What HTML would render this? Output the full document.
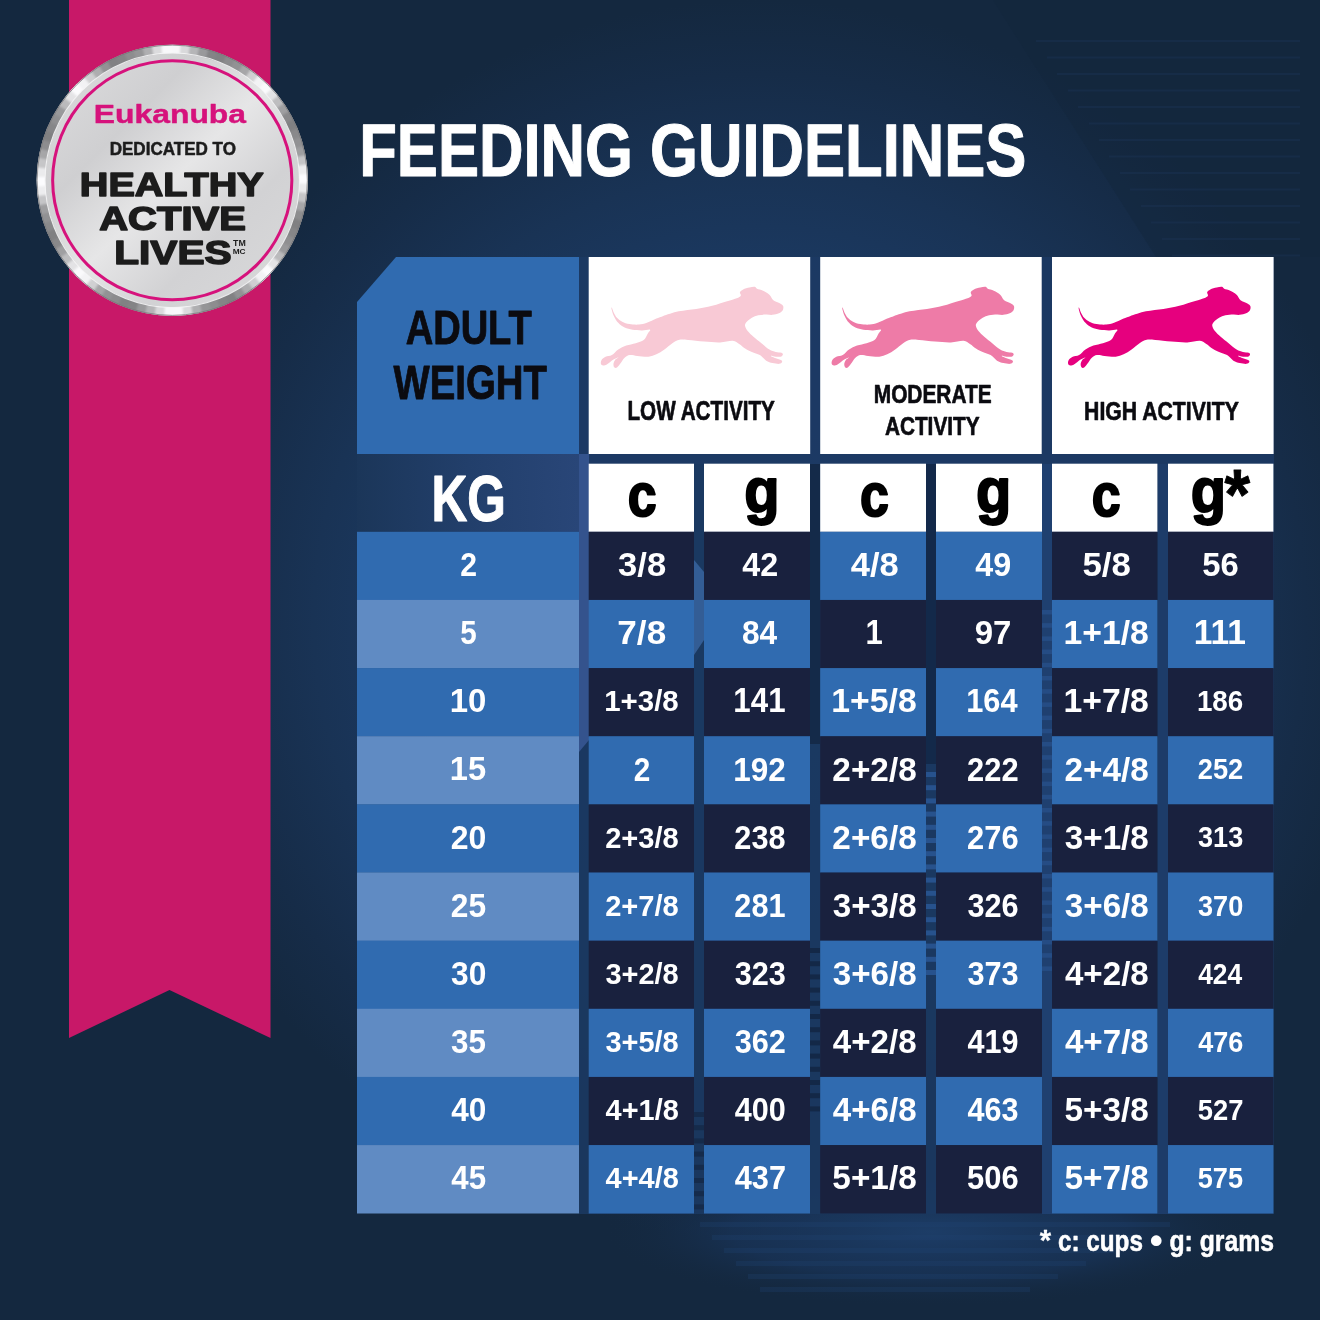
<!DOCTYPE html>
<html lang="en">
<head>
<meta charset="utf-8">
<title>Feeding Guidelines</title>
<style>
html,body{margin:0;padding:0;background:#14283f;}
body{width:1320px;height:1320px;overflow:hidden;}
svg{display:block;will-change:transform;}
svg text{font-family:"Liberation Sans",sans-serif;font-weight:700;}
</style>
</head>
<body>
<svg width="1320" height="1320" viewBox="0 0 1320 1320">
<defs>
<radialGradient id="glow" cx="760" cy="620" r="620" gradientUnits="userSpaceOnUse">
<stop offset="0" stop-color="#1d3e6b"/><stop offset="0.55" stop-color="#1b3961"/><stop offset="0.72" stop-color="#193355"/><stop offset="0.88" stop-color="#162c48"/><stop offset="1" stop-color="#14283f"/>
</radialGradient>
<radialGradient id="glow2" cx="0.5" cy="0.5" r="0.5">
<stop offset="0" stop-color="#1d3e69" stop-opacity="0.95"/><stop offset="0.6" stop-color="#1a3760" stop-opacity="0.55"/><stop offset="1" stop-color="#14283f" stop-opacity="0"/>
</radialGradient>
<linearGradient id="kgbg" x1="0" x2="1" y1="0" y2="0">
<stop offset="0" stop-color="#1b3659"/><stop offset="0.5" stop-color="#223f6b"/><stop offset="1" stop-color="#294678"/>
</linearGradient>
<linearGradient id="face" x1="0" y1="0" x2="1" y2="1">
<stop offset="0" stop-color="#dededf"/><stop offset="0.3" stop-color="#cfcfd1"/><stop offset="0.5" stop-color="#e6e6e7"/><stop offset="0.7" stop-color="#d2d2d4"/><stop offset="1" stop-color="#dadadb"/>
</linearGradient>
<filter id="soft" x="-5%" y="-5%" width="110%" height="110%"><feGaussianBlur stdDeviation="1.2"/></filter>
<clipPath id="ringclip"><path clip-rule="evenodd" d="M172.25,44.65a135.6,135.6 0 1,0 0.01,0Z M172.25,53.45a126.8,126.8 0 1,1 -0.01,0Z"/></clipPath>
</defs>
<rect width="1320" height="1320" fill="#14283f"/>
<rect x="0" y="0" width="1320" height="1320" fill="url(#glow)"/>
<ellipse cx="930" cy="1232" rx="330" ry="75" fill="url(#glow2)"/>
<polygon points="993,0 1320,0 1320,257 1275,257 1156,257" fill="#12253b" opacity="0.42"/>
<rect x="1036" y="40.0" width="264" height="2" fill="#1a3150" opacity="0.55"/>
<rect x="1047" y="56.5" width="253" height="2" fill="#1a3150" opacity="0.55"/>
<rect x="1057" y="73.0" width="243" height="2" fill="#1a3150" opacity="0.55"/>
<rect x="1068" y="89.5" width="232" height="2" fill="#1a3150" opacity="0.55"/>
<rect x="1078" y="106.0" width="222" height="2" fill="#1a3150" opacity="0.55"/>
<rect x="1089" y="122.5" width="211" height="2" fill="#1a3150" opacity="0.55"/>
<rect x="1099" y="139.0" width="201" height="2" fill="#1a3150" opacity="0.55"/>
<rect x="1109" y="155.5" width="191" height="2" fill="#1a3150" opacity="0.55"/>
<rect x="1120" y="172.0" width="180" height="2" fill="#1a3150" opacity="0.55"/>
<rect x="1130" y="188.5" width="170" height="2" fill="#1a3150" opacity="0.55"/>
<rect x="1141" y="205.0" width="159" height="2" fill="#1a3150" opacity="0.55"/>
<rect x="1151" y="221.5" width="149" height="2" fill="#1a3150" opacity="0.55"/>
<rect x="1162" y="238.0" width="138" height="2" fill="#1a3150" opacity="0.55"/>
<rect x="1172" y="254.5" width="128" height="2" fill="#1a3150" opacity="0.55"/>
<rect x="700" y="1222" width="470" height="5" fill="#214674" opacity="0.28"/>
<rect x="712" y="1235" width="430" height="5" fill="#214674" opacity="0.28"/>
<rect x="724" y="1248" width="390" height="5" fill="#214674" opacity="0.28"/>
<rect x="736" y="1261" width="350" height="5" fill="#214674" opacity="0.28"/>
<rect x="748" y="1274" width="310" height="5" fill="#214674" opacity="0.28"/>
<rect x="760" y="1287" width="270" height="5" fill="#214674" opacity="0.28"/>
<rect x="579" y="257" width="695" height="207" fill="#1c3a64" opacity="0.85"/>
<rect x="579" y="464" width="695" height="750" fill="#1b3861" opacity="0.9"/>
<polygon points="579,454 589,454 589,740 579,752" fill="#34538d"/>
<rect x="810" y="464" width="10" height="280" fill="#142a49"/>
<rect x="926" y="464" width="10" height="300" fill="#13294a"/>
<rect x="1042" y="464" width="10" height="750" fill="#1f4070"/>
<rect x="1158" y="464" width="10" height="750" fill="#1d3c69"/>
<rect x="926" y="772.0" width="10" height="5" fill="#2c5b9c" opacity="0.75"/>
<rect x="926" y="785.2" width="10" height="5" fill="#2c5b9c" opacity="0.75"/>
<rect x="926" y="798.4" width="10" height="5" fill="#2c5b9c" opacity="0.75"/>
<rect x="926" y="811.6" width="10" height="5" fill="#2c5b9c" opacity="0.75"/>
<rect x="926" y="824.8" width="10" height="5" fill="#2c5b9c" opacity="0.75"/>
<rect x="926" y="838.0" width="10" height="5" fill="#2c5b9c" opacity="0.75"/>
<rect x="926" y="851.2" width="10" height="5" fill="#2c5b9c" opacity="0.75"/>
<rect x="926" y="864.4" width="10" height="5" fill="#2c5b9c" opacity="0.75"/>
<rect x="926" y="877.6" width="10" height="5" fill="#2c5b9c" opacity="0.75"/>
<rect x="926" y="890.8" width="10" height="5" fill="#2c5b9c" opacity="0.75"/>
<rect x="926" y="904.0" width="10" height="5" fill="#2c5b9c" opacity="0.75"/>
<rect x="926" y="917.2" width="10" height="5" fill="#2c5b9c" opacity="0.75"/>
<rect x="926" y="930.4" width="10" height="5" fill="#2c5b9c" opacity="0.75"/>
<rect x="926" y="943.6" width="10" height="5" fill="#2c5b9c" opacity="0.75"/>
<rect x="926" y="956.8" width="10" height="5" fill="#2c5b9c" opacity="0.75"/>
<rect x="926" y="970.0" width="10" height="5" fill="#2c5b9c" opacity="0.75"/>
<rect x="1042" y="610.0" width="10" height="4.5" fill="#2a5591" opacity="0.6"/>
<rect x="1042" y="623.2" width="10" height="4.5" fill="#2a5591" opacity="0.6"/>
<rect x="1042" y="636.4" width="10" height="4.5" fill="#2a5591" opacity="0.6"/>
<rect x="1042" y="649.6" width="10" height="4.5" fill="#2a5591" opacity="0.6"/>
<rect x="1042" y="662.8" width="10" height="4.5" fill="#2a5591" opacity="0.6"/>
<rect x="1042" y="676.0" width="10" height="4.5" fill="#2a5591" opacity="0.6"/>
<rect x="1042" y="689.2" width="10" height="4.5" fill="#2a5591" opacity="0.6"/>
<rect x="1042" y="702.4" width="10" height="4.5" fill="#2a5591" opacity="0.6"/>
<rect x="1042" y="715.6" width="10" height="4.5" fill="#2a5591" opacity="0.6"/>
<rect x="1042" y="728.8" width="10" height="4.5" fill="#2a5591" opacity="0.6"/>
<rect x="1042" y="742.0" width="10" height="4.5" fill="#2a5591" opacity="0.6"/>
<rect x="1042" y="755.2" width="10" height="4.5" fill="#2a5591" opacity="0.6"/>
<rect x="1042" y="768.4" width="10" height="4.5" fill="#2a5591" opacity="0.6"/>
<rect x="1042" y="781.6" width="10" height="4.5" fill="#2a5591" opacity="0.6"/>
<rect x="1042" y="794.8" width="10" height="4.5" fill="#2a5591" opacity="0.6"/>
<rect x="1042" y="808.0" width="10" height="4.5" fill="#2a5591" opacity="0.6"/>
<rect x="1042" y="821.2" width="10" height="4.5" fill="#2a5591" opacity="0.6"/>
<rect x="1042" y="834.4" width="10" height="4.5" fill="#2a5591" opacity="0.6"/>
<rect x="1042" y="847.6" width="10" height="4.5" fill="#2a5591" opacity="0.6"/>
<rect x="1042" y="860.8" width="10" height="4.5" fill="#2a5591" opacity="0.6"/>
<rect x="1042" y="874.0" width="10" height="4.5" fill="#2a5591" opacity="0.6"/>
<rect x="1042" y="887.2" width="10" height="4.5" fill="#2a5591" opacity="0.6"/>
<rect x="1042" y="900.4" width="10" height="4.5" fill="#2a5591" opacity="0.6"/>
<rect x="1042" y="913.6" width="10" height="4.5" fill="#2a5591" opacity="0.6"/>
<rect x="1042" y="926.8" width="10" height="4.5" fill="#2a5591" opacity="0.6"/>
<rect x="1042" y="940.0" width="10" height="4.5" fill="#2a5591" opacity="0.6"/>
<rect x="1042" y="953.2" width="10" height="4.5" fill="#2a5591" opacity="0.6"/>
<rect x="1042" y="966.4" width="10" height="4.5" fill="#2a5591" opacity="0.6"/>
<rect x="810" y="948.0" width="10" height="5" fill="#11223d" opacity="0.7"/>
<rect x="810" y="961.2" width="10" height="5" fill="#11223d" opacity="0.7"/>
<rect x="810" y="974.4" width="10" height="5" fill="#11223d" opacity="0.7"/>
<rect x="810" y="987.6" width="10" height="5" fill="#11223d" opacity="0.7"/>
<rect x="810" y="1000.8" width="10" height="5" fill="#11223d" opacity="0.7"/>
<rect x="810" y="1014.0" width="10" height="5" fill="#11223d" opacity="0.7"/>
<rect x="810" y="1027.2" width="10" height="5" fill="#11223d" opacity="0.7"/>
<rect x="810" y="1040.4" width="10" height="5" fill="#11223d" opacity="0.7"/>
<rect x="810" y="1053.6" width="10" height="5" fill="#11223d" opacity="0.7"/>
<rect x="810" y="1066.8" width="10" height="5" fill="#11223d" opacity="0.7"/>
<rect x="810" y="1080.0" width="10" height="5" fill="#11223d" opacity="0.7"/>
<rect x="810" y="1093.2" width="10" height="5" fill="#11223d" opacity="0.7"/>
<rect x="810" y="1106.4" width="10" height="5" fill="#11223d" opacity="0.7"/>
<rect x="694" y="1112.0" width="10" height="5" fill="#12233f" opacity="0.6"/>
<rect x="694" y="1125.2" width="10" height="5" fill="#12233f" opacity="0.6"/>
<rect x="694" y="1138.4" width="10" height="5" fill="#12233f" opacity="0.6"/>
<rect x="694" y="1151.6" width="10" height="5" fill="#12233f" opacity="0.6"/>
<rect x="694" y="1164.8" width="10" height="5" fill="#12233f" opacity="0.6"/>
<rect x="694" y="1178.0" width="10" height="5" fill="#12233f" opacity="0.6"/>
<rect x="694" y="1191.2" width="10" height="5" fill="#12233f" opacity="0.6"/>
<rect x="694" y="1204.4" width="10" height="5" fill="#12233f" opacity="0.6"/>
<polygon points="694,560 704,572 704,640 694,655" fill="#3a67a3" opacity="0.8"/>
<polygon points="69,0 270.5,0 270.5,1038 169.5,990 69,1038" fill="#c81868"/>
<circle cx="172.25" cy="180.25" r="135.6" fill="#b4b4b6"/>
<g clip-path="url(#ringclip)"><g filter="url(#soft)">
<path d="M172.25,180.25L170.80,41.66A138.6,138.6 0 0,1 183.37,42.10Z" fill="#f7f7f9"/>
<path d="M172.25,180.25L180.47,41.89A138.6,138.6 0 0,1 192.98,43.21Z" fill="#d9d9db"/>
<path d="M172.25,180.25L190.10,42.80A138.6,138.6 0 0,1 202.48,44.99Z" fill="#b5b5b7"/>
<path d="M172.25,180.25L199.65,44.38A138.6,138.6 0 0,1 211.85,47.43Z" fill="#99999b"/>
<path d="M172.25,180.25L209.06,46.63A138.6,138.6 0 0,1 221.02,50.51Z" fill="#848486"/>
<path d="M172.25,180.25L218.29,49.52A138.6,138.6 0 0,1 229.95,54.23Z" fill="#818183"/>
<path d="M172.25,180.25L227.29,53.05A138.6,138.6 0 0,1 238.60,58.56Z" fill="#8b8b8d"/>
<path d="M172.25,180.25L236.03,57.20A138.6,138.6 0 0,1 246.92,63.49Z" fill="#929294"/>
<path d="M172.25,180.25L244.46,61.95A138.6,138.6 0 0,1 254.89,68.98Z" fill="#a6a6a8"/>
<path d="M172.25,180.25L252.54,67.27A138.6,138.6 0 0,1 262.45,75.01Z" fill="#d0d0d2"/>
<path d="M172.25,180.25L260.22,73.15A138.6,138.6 0 0,1 269.57,81.56Z" fill="#f3f3f5"/>
<path d="M172.25,180.25L267.48,79.55A138.6,138.6 0 0,1 276.22,88.59Z" fill="#fafafc"/>
<path d="M172.25,180.25L274.27,86.43A138.6,138.6 0 0,1 282.36,96.07Z" fill="#e3e3e5"/>
<path d="M172.25,180.25L280.57,93.78A138.6,138.6 0 0,1 287.96,103.95Z" fill="#bdbdbf"/>
<path d="M172.25,180.25L286.34,101.55A138.6,138.6 0 0,1 293.00,112.21Z" fill="#9f9fa1"/>
<path d="M172.25,180.25L291.55,109.70A138.6,138.6 0 0,1 297.45,120.80Z" fill="#88888a"/>
<path d="M172.25,180.25L296.18,118.19A138.6,138.6 0 0,1 301.29,129.68Z" fill="#808082"/>
<path d="M172.25,180.25L300.21,126.99A138.6,138.6 0 0,1 304.51,138.80Z" fill="#89898b"/>
<path d="M172.25,180.25L303.61,136.04A138.6,138.6 0 0,1 307.08,148.13Z" fill="#919193"/>
<path d="M172.25,180.25L306.37,145.31A138.6,138.6 0 0,1 308.99,157.61Z" fill="#9e9ea0"/>
<path d="M172.25,180.25L308.48,154.75A138.6,138.6 0 0,1 310.23,167.21Z" fill="#c5c5c7"/>
<path d="M172.25,180.25L309.93,164.32A138.6,138.6 0 0,1 310.81,176.86Z" fill="#ededef"/>
<path d="M172.25,180.25L310.71,173.96A138.6,138.6 0 0,1 310.71,186.54Z" fill="#fcfcfe"/>
<path d="M172.25,180.25L310.81,183.64A138.6,138.6 0 0,1 309.93,196.18Z" fill="#ebebed"/>
<path d="M172.25,180.25L310.23,193.29A138.6,138.6 0 0,1 308.48,205.75Z" fill="#c6c6c8"/>
<path d="M172.25,180.25L308.99,202.89A138.6,138.6 0 0,1 306.37,215.19Z" fill="#a6a6a8"/>
<path d="M172.25,180.25L307.08,212.37A138.6,138.6 0 0,1 303.61,224.46Z" fill="#8d8d8f"/>
<path d="M172.25,180.25L304.51,221.70A138.6,138.6 0 0,1 300.21,233.51Z" fill="#808082"/>
<path d="M172.25,180.25L301.29,230.82A138.6,138.6 0 0,1 296.18,242.31Z" fill="#868688"/>
<path d="M172.25,180.25L297.45,239.70A138.6,138.6 0 0,1 291.55,250.80Z" fill="#8f8f91"/>
<path d="M172.25,180.25L293.00,248.29A138.6,138.6 0 0,1 286.34,258.95Z" fill="#99999b"/>
<path d="M172.25,180.25L287.96,256.55A138.6,138.6 0 0,1 280.57,266.72Z" fill="#bababc"/>
<path d="M172.25,180.25L282.36,264.43A138.6,138.6 0 0,1 274.27,274.07Z" fill="#e4e4e6"/>
<path d="M172.25,180.25L276.22,271.91A138.6,138.6 0 0,1 267.48,280.95Z" fill="#fbfbfd"/>
<path d="M172.25,180.25L269.57,278.94A138.6,138.6 0 0,1 260.22,287.35Z" fill="#f2f2f4"/>
<path d="M172.25,180.25L262.45,285.49A138.6,138.6 0 0,1 252.54,293.23Z" fill="#cfcfd1"/>
<path d="M172.25,180.25L254.89,291.52A138.6,138.6 0 0,1 244.46,298.55Z" fill="#adadaf"/>
<path d="M172.25,180.25L246.92,297.01A138.6,138.6 0 0,1 236.03,303.30Z" fill="#929294"/>
<path d="M172.25,180.25L238.60,301.94A138.6,138.6 0 0,1 227.29,307.45Z" fill="#818183"/>
<path d="M172.25,180.25L229.95,306.27A138.6,138.6 0 0,1 218.29,310.98Z" fill="#848486"/>
<path d="M172.25,180.25L221.02,309.99A138.6,138.6 0 0,1 209.06,313.87Z" fill="#8d8d8f"/>
<path d="M172.25,180.25L211.85,313.07A138.6,138.6 0 0,1 199.65,316.12Z" fill="#959597"/>
<path d="M172.25,180.25L202.48,315.51A138.6,138.6 0 0,1 190.10,317.70Z" fill="#afafb1"/>
<path d="M172.25,180.25L192.98,317.29A138.6,138.6 0 0,1 180.47,318.61Z" fill="#dbdbdd"/>
<path d="M172.25,180.25L183.37,318.40A138.6,138.6 0 0,1 170.80,318.84Z" fill="#f8f8fa"/>
<path d="M172.25,180.25L173.70,318.84A138.6,138.6 0 0,1 161.13,318.40Z" fill="#f7f7f9"/>
<path d="M172.25,180.25L164.03,318.61A138.6,138.6 0 0,1 151.52,317.29Z" fill="#d9d9db"/>
<path d="M172.25,180.25L154.40,317.70A138.6,138.6 0 0,1 142.02,315.51Z" fill="#b5b5b7"/>
<path d="M172.25,180.25L144.85,316.12A138.6,138.6 0 0,1 132.65,313.07Z" fill="#99999b"/>
<path d="M172.25,180.25L135.44,313.87A138.6,138.6 0 0,1 123.48,309.99Z" fill="#848486"/>
<path d="M172.25,180.25L126.21,310.98A138.6,138.6 0 0,1 114.55,306.27Z" fill="#818183"/>
<path d="M172.25,180.25L117.21,307.45A138.6,138.6 0 0,1 105.90,301.94Z" fill="#8b8b8d"/>
<path d="M172.25,180.25L108.47,303.30A138.6,138.6 0 0,1 97.58,297.01Z" fill="#929294"/>
<path d="M172.25,180.25L100.04,298.55A138.6,138.6 0 0,1 89.61,291.52Z" fill="#a6a6a8"/>
<path d="M172.25,180.25L91.96,293.23A138.6,138.6 0 0,1 82.05,285.49Z" fill="#d0d0d2"/>
<path d="M172.25,180.25L84.28,287.35A138.6,138.6 0 0,1 74.93,278.94Z" fill="#f3f3f5"/>
<path d="M172.25,180.25L77.02,280.95A138.6,138.6 0 0,1 68.28,271.91Z" fill="#fafafc"/>
<path d="M172.25,180.25L70.23,274.07A138.6,138.6 0 0,1 62.14,264.43Z" fill="#e3e3e5"/>
<path d="M172.25,180.25L63.93,266.72A138.6,138.6 0 0,1 56.54,256.55Z" fill="#bdbdbf"/>
<path d="M172.25,180.25L58.16,258.95A138.6,138.6 0 0,1 51.50,248.29Z" fill="#9f9fa1"/>
<path d="M172.25,180.25L52.95,250.80A138.6,138.6 0 0,1 47.05,239.70Z" fill="#88888a"/>
<path d="M172.25,180.25L48.32,242.31A138.6,138.6 0 0,1 43.21,230.82Z" fill="#808082"/>
<path d="M172.25,180.25L44.29,233.51A138.6,138.6 0 0,1 39.99,221.70Z" fill="#89898b"/>
<path d="M172.25,180.25L40.89,224.46A138.6,138.6 0 0,1 37.42,212.37Z" fill="#919193"/>
<path d="M172.25,180.25L38.13,215.19A138.6,138.6 0 0,1 35.51,202.89Z" fill="#9e9ea0"/>
<path d="M172.25,180.25L36.02,205.75A138.6,138.6 0 0,1 34.27,193.29Z" fill="#c5c5c7"/>
<path d="M172.25,180.25L34.57,196.18A138.6,138.6 0 0,1 33.69,183.64Z" fill="#ededef"/>
<path d="M172.25,180.25L33.79,186.54A138.6,138.6 0 0,1 33.79,173.96Z" fill="#fcfcfe"/>
<path d="M172.25,180.25L33.69,176.86A138.6,138.6 0 0,1 34.57,164.32Z" fill="#ebebed"/>
<path d="M172.25,180.25L34.27,167.21A138.6,138.6 0 0,1 36.02,154.75Z" fill="#c6c6c8"/>
<path d="M172.25,180.25L35.51,157.61A138.6,138.6 0 0,1 38.13,145.31Z" fill="#a6a6a8"/>
<path d="M172.25,180.25L37.42,148.13A138.6,138.6 0 0,1 40.89,136.04Z" fill="#8d8d8f"/>
<path d="M172.25,180.25L39.99,138.80A138.6,138.6 0 0,1 44.29,126.99Z" fill="#808082"/>
<path d="M172.25,180.25L43.21,129.68A138.6,138.6 0 0,1 48.32,118.19Z" fill="#868688"/>
<path d="M172.25,180.25L47.05,120.80A138.6,138.6 0 0,1 52.95,109.70Z" fill="#8f8f91"/>
<path d="M172.25,180.25L51.50,112.21A138.6,138.6 0 0,1 58.16,101.55Z" fill="#99999b"/>
<path d="M172.25,180.25L56.54,103.95A138.6,138.6 0 0,1 63.93,93.78Z" fill="#bababc"/>
<path d="M172.25,180.25L62.14,96.07A138.6,138.6 0 0,1 70.23,86.43Z" fill="#e4e4e6"/>
<path d="M172.25,180.25L68.28,88.59A138.6,138.6 0 0,1 77.02,79.55Z" fill="#fbfbfd"/>
<path d="M172.25,180.25L74.93,81.56A138.6,138.6 0 0,1 84.28,73.15Z" fill="#f2f2f4"/>
<path d="M172.25,180.25L82.05,75.01A138.6,138.6 0 0,1 91.96,67.27Z" fill="#cfcfd1"/>
<path d="M172.25,180.25L89.61,68.98A138.6,138.6 0 0,1 100.04,61.95Z" fill="#adadaf"/>
<path d="M172.25,180.25L97.58,63.49A138.6,138.6 0 0,1 108.47,57.20Z" fill="#929294"/>
<path d="M172.25,180.25L105.90,58.56A138.6,138.6 0 0,1 117.21,53.05Z" fill="#818183"/>
<path d="M172.25,180.25L114.55,54.23A138.6,138.6 0 0,1 126.21,49.52Z" fill="#848486"/>
<path d="M172.25,180.25L123.48,50.51A138.6,138.6 0 0,1 135.44,46.63Z" fill="#8d8d8f"/>
<path d="M172.25,180.25L132.65,47.43A138.6,138.6 0 0,1 144.85,44.38Z" fill="#959597"/>
<path d="M172.25,180.25L142.02,44.99A138.6,138.6 0 0,1 154.40,42.80Z" fill="#afafb1"/>
<path d="M172.25,180.25L151.52,43.21A138.6,138.6 0 0,1 164.03,41.89Z" fill="#dbdbdd"/>
<path d="M172.25,180.25L161.13,42.10A138.6,138.6 0 0,1 173.70,41.66Z" fill="#f8f8fa"/>
</g></g>
<circle cx="172.25" cy="180.25" r="135.1" fill="none" stroke="#77777a" stroke-width="1" opacity="0.75"/>
<circle cx="172.25" cy="180.25" r="126.8" fill="url(#face)"/>
<circle cx="172.25" cy="180.25" r="127.2" fill="none" stroke="#f4f4f5" stroke-width="1.1" opacity="0.9"/>
<circle cx="172.25" cy="180.25" r="119.6" fill="none" stroke="#d6127c" stroke-width="3.0"/>
<text transform="translate(93.83 123.20) scale(1.2289 1)" font-size="25.93" text-anchor="start" fill="#d6127c" stroke="#d6127c" stroke-width="0.5" stroke-linejoin="round" vector-effect="non-scaling-stroke">Eukanuba</text>
<text transform="translate(109.69 155.30) scale(0.9552 1)" font-size="17.86" text-anchor="start" fill="#1c1c1c" stroke="#1c1c1c" stroke-width="0.5" stroke-linejoin="round" vector-effect="non-scaling-stroke">DEDICATED TO</text>
<text transform="translate(79.83 195.60) scale(1.1952 1)" font-size="33.09" text-anchor="start" fill="#1c1c1c" stroke="#1c1c1c" stroke-width="1.7" stroke-linejoin="round" vector-effect="non-scaling-stroke">HEALTHY</text>
<text transform="translate(99.20 229.90) scale(1.2289 1)" font-size="32.57" text-anchor="start" fill="#1c1c1c" stroke="#1c1c1c" stroke-width="1.7" stroke-linejoin="round" vector-effect="non-scaling-stroke">ACTIVE</text>
<text transform="translate(114.26 264.40) scale(1.2263 1)" font-size="33.14" text-anchor="start" fill="#1c1c1c" stroke="#1c1c1c" stroke-width="1.7" stroke-linejoin="round" vector-effect="non-scaling-stroke">LIVES</text>
<text transform="translate(233.11 246.10) scale(1.0762 1)" font-size="8.20" text-anchor="start" fill="#1c1c1c">TM</text>
<text transform="translate(232.66 253.50) scale(1.2061 1)" font-size="6.86" text-anchor="start" fill="#1c1c1c">MC</text>
<text transform="translate(359.20 175.80) scale(0.8212 1)" font-size="75.00" text-anchor="start" fill="#fff" stroke="#fff" stroke-width="1.0" stroke-linejoin="round" vector-effect="non-scaling-stroke">FEEDING GUIDELINES</text>
<polygon points="396,257 579,257 579,454 357,454 357,302" fill="#306bb0"/>
<text transform="translate(405.64 343.60) scale(0.7971 1)" font-size="47.77" text-anchor="start" fill="#0b0b10" stroke="#0b0b10" stroke-width="0.8" stroke-linejoin="round" vector-effect="non-scaling-stroke">ADULT</text>
<text transform="translate(393.60 398.80) scale(0.8040 1)" font-size="47.71" text-anchor="start" fill="#0b0b10" stroke="#0b0b10" stroke-width="0.8" stroke-linejoin="round" vector-effect="non-scaling-stroke">WEIGHT</text>
<rect x="588.7" y="257" width="221.5" height="197" fill="#fff"/>
<rect x="820.2" y="257" width="221.5" height="197" fill="#fff"/>
<rect x="1052" y="257" width="221.6" height="197" fill="#fff"/>
<path transform="translate(584.8 257)" d="M27.09,50.86C27.46,51.45 28.15,53.99 29.00,55.63C29.85,57.28 30.78,59.21 32.18,60.73C33.59,62.24 35.36,63.64 37.43,64.70C39.50,65.76 41.81,66.61 44.59,67.09C47.37,67.57 51.22,67.78 54.13,67.57C57.05,67.35 59.17,66.82 62.09,65.82C65.00,64.81 68.98,62.63 71.63,61.52C74.28,60.41 74.28,60.33 78.00,59.13C81.71,57.94 88.34,55.55 93.91,54.36C99.47,53.17 105.84,52.90 111.40,51.98C116.97,51.05 122.01,50.12 127.31,48.79C132.62,47.47 139.11,45.27 143.22,44.02C147.33,42.78 149.85,42.19 151.97,41.32C154.09,40.44 155.42,39.78 155.95,38.77C156.48,37.76 154.75,36.33 155.15,35.27C155.55,34.21 156.74,33.20 158.33,32.41C159.92,31.61 162.76,30.92 164.70,30.50C166.63,30.07 168.70,29.65 169.95,29.86C171.19,30.07 170.80,31.14 172.17,31.77C173.55,32.41 176.15,32.70 178.22,33.68C180.29,34.66 182.86,36.07 184.58,37.66C186.31,39.25 186.76,41.77 188.56,43.23C190.36,44.68 193.76,45.40 195.40,46.41C197.04,47.42 198.03,48.08 198.42,49.27C198.82,50.46 198.50,52.40 197.79,53.57C197.07,54.73 195.80,55.55 194.13,56.27C192.46,56.99 189.89,57.65 187.76,57.86C185.64,58.07 183.79,57.46 181.40,57.54C179.01,57.62 175.83,57.81 173.45,58.34C171.06,58.87 168.99,59.66 167.08,60.73C165.17,61.79 163.13,63.38 161.99,64.70C160.85,66.03 160.06,67.09 160.24,68.68C160.43,70.27 161.70,72.39 163.11,74.25C164.51,76.10 166.42,77.83 168.67,79.82C170.93,81.80 173.98,84.06 176.63,86.18C179.28,88.30 182.20,91.08 184.58,92.54C186.97,94.00 188.96,94.40 190.95,94.93C192.93,95.46 195.32,95.33 196.51,95.72C197.71,96.12 198.10,96.70 198.10,97.31C198.10,97.92 197.71,98.98 196.51,99.38C195.32,99.78 192.67,99.78 190.95,99.70C189.22,99.62 186.17,98.64 186.17,98.91C186.17,99.17 189.22,100.55 190.95,101.29C192.67,102.03 195.48,102.70 196.51,103.36C197.55,104.02 197.50,104.69 197.15,105.27C196.81,105.85 196.01,106.73 194.45,106.86C192.88,106.99 189.94,106.59 187.76,106.06C185.59,105.53 183.52,105.00 181.40,103.68C179.28,102.35 177.42,99.57 175.04,98.11C172.65,96.65 169.47,95.99 167.08,94.93C164.70,93.87 162.84,93.07 160.72,91.75C158.60,90.42 156.48,88.30 154.36,86.97C152.24,85.65 151.18,84.06 147.99,83.79C144.81,83.53 140.04,85.25 135.27,85.38C130.49,85.52 124.66,84.99 119.36,84.59C114.06,84.19 107.56,83.31 103.45,83.00C99.34,82.68 97.35,82.15 94.70,82.68C92.05,83.21 90.06,84.53 87.54,86.18C85.02,87.82 82.24,90.69 79.59,92.54C76.94,94.40 74.28,96.12 71.63,97.31C68.98,98.51 66.86,99.44 63.68,99.70C60.50,99.97 55.67,99.17 52.54,98.91C49.41,98.64 47.03,97.79 44.91,98.11C42.79,98.43 41.41,99.36 39.82,100.81C38.23,102.27 36.64,105.24 35.36,106.86C34.09,108.48 33.16,109.93 32.18,110.52C31.20,111.10 30.06,110.97 29.48,110.36C28.89,109.75 28.55,108.11 28.68,106.86C28.81,105.61 29.40,104.00 30.27,102.88C31.15,101.77 34.20,100.26 33.93,100.18C33.67,100.10 30.62,101.24 28.68,102.41C26.75,103.57 24.04,106.14 22.32,107.18C20.59,108.21 19.37,108.66 18.34,108.61C17.31,108.56 16.38,107.81 16.11,106.86C15.85,105.90 15.98,104.08 16.75,102.88C17.52,101.69 19.00,100.50 20.73,99.70C22.45,98.91 24.97,99.30 27.09,98.11C29.21,96.92 31.07,94.13 33.45,92.54C35.84,90.95 38.49,89.63 41.41,88.56C44.32,87.50 48.04,87.11 50.95,86.18C53.87,85.25 56.92,84.59 58.91,83.00C60.90,81.41 61.82,78.36 62.88,76.63C63.94,74.91 66.20,73.19 65.27,72.66C64.34,72.13 60.23,73.43 57.32,73.45C54.40,73.48 50.69,73.29 47.77,72.82C44.85,72.34 42.20,71.75 39.82,70.59C37.43,69.42 35.23,67.72 33.45,65.82C31.68,63.91 30.27,61.41 29.16,59.13C28.04,56.85 27.12,53.51 26.77,52.13C26.43,50.76 26.72,50.28 27.09,50.86Z" fill="#f8c9d5"/>
<path transform="translate(815.6 257)" d="M27.09,50.86C27.46,51.45 28.15,53.99 29.00,55.63C29.85,57.28 30.78,59.21 32.18,60.73C33.59,62.24 35.36,63.64 37.43,64.70C39.50,65.76 41.81,66.61 44.59,67.09C47.37,67.57 51.22,67.78 54.13,67.57C57.05,67.35 59.17,66.82 62.09,65.82C65.00,64.81 68.98,62.63 71.63,61.52C74.28,60.41 74.28,60.33 78.00,59.13C81.71,57.94 88.34,55.55 93.91,54.36C99.47,53.17 105.84,52.90 111.40,51.98C116.97,51.05 122.01,50.12 127.31,48.79C132.62,47.47 139.11,45.27 143.22,44.02C147.33,42.78 149.85,42.19 151.97,41.32C154.09,40.44 155.42,39.78 155.95,38.77C156.48,37.76 154.75,36.33 155.15,35.27C155.55,34.21 156.74,33.20 158.33,32.41C159.92,31.61 162.76,30.92 164.70,30.50C166.63,30.07 168.70,29.65 169.95,29.86C171.19,30.07 170.80,31.14 172.17,31.77C173.55,32.41 176.15,32.70 178.22,33.68C180.29,34.66 182.86,36.07 184.58,37.66C186.31,39.25 186.76,41.77 188.56,43.23C190.36,44.68 193.76,45.40 195.40,46.41C197.04,47.42 198.03,48.08 198.42,49.27C198.82,50.46 198.50,52.40 197.79,53.57C197.07,54.73 195.80,55.55 194.13,56.27C192.46,56.99 189.89,57.65 187.76,57.86C185.64,58.07 183.79,57.46 181.40,57.54C179.01,57.62 175.83,57.81 173.45,58.34C171.06,58.87 168.99,59.66 167.08,60.73C165.17,61.79 163.13,63.38 161.99,64.70C160.85,66.03 160.06,67.09 160.24,68.68C160.43,70.27 161.70,72.39 163.11,74.25C164.51,76.10 166.42,77.83 168.67,79.82C170.93,81.80 173.98,84.06 176.63,86.18C179.28,88.30 182.20,91.08 184.58,92.54C186.97,94.00 188.96,94.40 190.95,94.93C192.93,95.46 195.32,95.33 196.51,95.72C197.71,96.12 198.10,96.70 198.10,97.31C198.10,97.92 197.71,98.98 196.51,99.38C195.32,99.78 192.67,99.78 190.95,99.70C189.22,99.62 186.17,98.64 186.17,98.91C186.17,99.17 189.22,100.55 190.95,101.29C192.67,102.03 195.48,102.70 196.51,103.36C197.55,104.02 197.50,104.69 197.15,105.27C196.81,105.85 196.01,106.73 194.45,106.86C192.88,106.99 189.94,106.59 187.76,106.06C185.59,105.53 183.52,105.00 181.40,103.68C179.28,102.35 177.42,99.57 175.04,98.11C172.65,96.65 169.47,95.99 167.08,94.93C164.70,93.87 162.84,93.07 160.72,91.75C158.60,90.42 156.48,88.30 154.36,86.97C152.24,85.65 151.18,84.06 147.99,83.79C144.81,83.53 140.04,85.25 135.27,85.38C130.49,85.52 124.66,84.99 119.36,84.59C114.06,84.19 107.56,83.31 103.45,83.00C99.34,82.68 97.35,82.15 94.70,82.68C92.05,83.21 90.06,84.53 87.54,86.18C85.02,87.82 82.24,90.69 79.59,92.54C76.94,94.40 74.28,96.12 71.63,97.31C68.98,98.51 66.86,99.44 63.68,99.70C60.50,99.97 55.67,99.17 52.54,98.91C49.41,98.64 47.03,97.79 44.91,98.11C42.79,98.43 41.41,99.36 39.82,100.81C38.23,102.27 36.64,105.24 35.36,106.86C34.09,108.48 33.16,109.93 32.18,110.52C31.20,111.10 30.06,110.97 29.48,110.36C28.89,109.75 28.55,108.11 28.68,106.86C28.81,105.61 29.40,104.00 30.27,102.88C31.15,101.77 34.20,100.26 33.93,100.18C33.67,100.10 30.62,101.24 28.68,102.41C26.75,103.57 24.04,106.14 22.32,107.18C20.59,108.21 19.37,108.66 18.34,108.61C17.31,108.56 16.38,107.81 16.11,106.86C15.85,105.90 15.98,104.08 16.75,102.88C17.52,101.69 19.00,100.50 20.73,99.70C22.45,98.91 24.97,99.30 27.09,98.11C29.21,96.92 31.07,94.13 33.45,92.54C35.84,90.95 38.49,89.63 41.41,88.56C44.32,87.50 48.04,87.11 50.95,86.18C53.87,85.25 56.92,84.59 58.91,83.00C60.90,81.41 61.82,78.36 62.88,76.63C63.94,74.91 66.20,73.19 65.27,72.66C64.34,72.13 60.23,73.43 57.32,73.45C54.40,73.48 50.69,73.29 47.77,72.82C44.85,72.34 42.20,71.75 39.82,70.59C37.43,69.42 35.23,67.72 33.45,65.82C31.68,63.91 30.27,61.41 29.16,59.13C28.04,56.85 27.12,53.51 26.77,52.13C26.43,50.76 26.72,50.28 27.09,50.86Z" fill="#ee7ba7"/>
<path transform="translate(1052.0 257)" d="M27.09,50.86C27.46,51.45 28.15,53.99 29.00,55.63C29.85,57.28 30.78,59.21 32.18,60.73C33.59,62.24 35.36,63.64 37.43,64.70C39.50,65.76 41.81,66.61 44.59,67.09C47.37,67.57 51.22,67.78 54.13,67.57C57.05,67.35 59.17,66.82 62.09,65.82C65.00,64.81 68.98,62.63 71.63,61.52C74.28,60.41 74.28,60.33 78.00,59.13C81.71,57.94 88.34,55.55 93.91,54.36C99.47,53.17 105.84,52.90 111.40,51.98C116.97,51.05 122.01,50.12 127.31,48.79C132.62,47.47 139.11,45.27 143.22,44.02C147.33,42.78 149.85,42.19 151.97,41.32C154.09,40.44 155.42,39.78 155.95,38.77C156.48,37.76 154.75,36.33 155.15,35.27C155.55,34.21 156.74,33.20 158.33,32.41C159.92,31.61 162.76,30.92 164.70,30.50C166.63,30.07 168.70,29.65 169.95,29.86C171.19,30.07 170.80,31.14 172.17,31.77C173.55,32.41 176.15,32.70 178.22,33.68C180.29,34.66 182.86,36.07 184.58,37.66C186.31,39.25 186.76,41.77 188.56,43.23C190.36,44.68 193.76,45.40 195.40,46.41C197.04,47.42 198.03,48.08 198.42,49.27C198.82,50.46 198.50,52.40 197.79,53.57C197.07,54.73 195.80,55.55 194.13,56.27C192.46,56.99 189.89,57.65 187.76,57.86C185.64,58.07 183.79,57.46 181.40,57.54C179.01,57.62 175.83,57.81 173.45,58.34C171.06,58.87 168.99,59.66 167.08,60.73C165.17,61.79 163.13,63.38 161.99,64.70C160.85,66.03 160.06,67.09 160.24,68.68C160.43,70.27 161.70,72.39 163.11,74.25C164.51,76.10 166.42,77.83 168.67,79.82C170.93,81.80 173.98,84.06 176.63,86.18C179.28,88.30 182.20,91.08 184.58,92.54C186.97,94.00 188.96,94.40 190.95,94.93C192.93,95.46 195.32,95.33 196.51,95.72C197.71,96.12 198.10,96.70 198.10,97.31C198.10,97.92 197.71,98.98 196.51,99.38C195.32,99.78 192.67,99.78 190.95,99.70C189.22,99.62 186.17,98.64 186.17,98.91C186.17,99.17 189.22,100.55 190.95,101.29C192.67,102.03 195.48,102.70 196.51,103.36C197.55,104.02 197.50,104.69 197.15,105.27C196.81,105.85 196.01,106.73 194.45,106.86C192.88,106.99 189.94,106.59 187.76,106.06C185.59,105.53 183.52,105.00 181.40,103.68C179.28,102.35 177.42,99.57 175.04,98.11C172.65,96.65 169.47,95.99 167.08,94.93C164.70,93.87 162.84,93.07 160.72,91.75C158.60,90.42 156.48,88.30 154.36,86.97C152.24,85.65 151.18,84.06 147.99,83.79C144.81,83.53 140.04,85.25 135.27,85.38C130.49,85.52 124.66,84.99 119.36,84.59C114.06,84.19 107.56,83.31 103.45,83.00C99.34,82.68 97.35,82.15 94.70,82.68C92.05,83.21 90.06,84.53 87.54,86.18C85.02,87.82 82.24,90.69 79.59,92.54C76.94,94.40 74.28,96.12 71.63,97.31C68.98,98.51 66.86,99.44 63.68,99.70C60.50,99.97 55.67,99.17 52.54,98.91C49.41,98.64 47.03,97.79 44.91,98.11C42.79,98.43 41.41,99.36 39.82,100.81C38.23,102.27 36.64,105.24 35.36,106.86C34.09,108.48 33.16,109.93 32.18,110.52C31.20,111.10 30.06,110.97 29.48,110.36C28.89,109.75 28.55,108.11 28.68,106.86C28.81,105.61 29.40,104.00 30.27,102.88C31.15,101.77 34.20,100.26 33.93,100.18C33.67,100.10 30.62,101.24 28.68,102.41C26.75,103.57 24.04,106.14 22.32,107.18C20.59,108.21 19.37,108.66 18.34,108.61C17.31,108.56 16.38,107.81 16.11,106.86C15.85,105.90 15.98,104.08 16.75,102.88C17.52,101.69 19.00,100.50 20.73,99.70C22.45,98.91 24.97,99.30 27.09,98.11C29.21,96.92 31.07,94.13 33.45,92.54C35.84,90.95 38.49,89.63 41.41,88.56C44.32,87.50 48.04,87.11 50.95,86.18C53.87,85.25 56.92,84.59 58.91,83.00C60.90,81.41 61.82,78.36 62.88,76.63C63.94,74.91 66.20,73.19 65.27,72.66C64.34,72.13 60.23,73.43 57.32,73.45C54.40,73.48 50.69,73.29 47.77,72.82C44.85,72.34 42.20,71.75 39.82,70.59C37.43,69.42 35.23,67.72 33.45,65.82C31.68,63.91 30.27,61.41 29.16,59.13C28.04,56.85 27.12,53.51 26.77,52.13C26.43,50.76 26.72,50.28 27.09,50.86Z" fill="#e6007e"/>
<text transform="translate(627.45 419.50) scale(0.7752 1)" font-size="26.71" text-anchor="start" fill="#0b0b10" stroke="#0b0b10" stroke-width="0.6" stroke-linejoin="round" vector-effect="non-scaling-stroke">LOW ACTIVITY</text>
<text transform="translate(873.74 403.40) scale(0.7944 1)" font-size="26.29" text-anchor="start" fill="#0b0b10" stroke="#0b0b10" stroke-width="0.6" stroke-linejoin="round" vector-effect="non-scaling-stroke">MODERATE</text>
<text transform="translate(884.88 435.40) scale(0.7914 1)" font-size="26.29" text-anchor="start" fill="#0b0b10" stroke="#0b0b10" stroke-width="0.6" stroke-linejoin="round" vector-effect="non-scaling-stroke">ACTIVITY</text>
<text transform="translate(1084.12 419.50) scale(0.8068 1)" font-size="26.29" text-anchor="start" fill="#0b0b10" stroke="#0b0b10" stroke-width="0.6" stroke-linejoin="round" vector-effect="non-scaling-stroke">HIGH ACTIVITY</text>
<rect x="357" y="454" width="222" height="77.80" fill="url(#kgbg)"/>
<text transform="translate(431.48 520.80) scale(0.7664 1)" font-size="64.71" text-anchor="start" fill="#fff" stroke="#fff" stroke-width="1.0" stroke-linejoin="round" vector-effect="non-scaling-stroke">KG</text>
<rect x="588.7" y="463.7" width="105.3" height="68.10" fill="#fff"/>
<text transform="translate(627.73 516.00) scale(0.8574 1)" font-size="60.56" text-anchor="start" fill="#000" stroke="#000" stroke-width="1.9" stroke-linejoin="round" vector-effect="non-scaling-stroke">c</text>
<rect x="704" y="463.7" width="106.0" height="68.10" fill="#fff"/>
<text transform="translate(744.29 512.00) scale(0.9321 1)" font-size="62.04" text-anchor="start" fill="#000" stroke="#000" stroke-width="1.9" stroke-linejoin="round" vector-effect="non-scaling-stroke">g</text>
<rect x="820.2" y="463.7" width="105.8" height="68.10" fill="#fff"/>
<text transform="translate(859.93 516.00) scale(0.8574 1)" font-size="60.56" text-anchor="start" fill="#000" stroke="#000" stroke-width="1.9" stroke-linejoin="round" vector-effect="non-scaling-stroke">c</text>
<rect x="936" y="463.7" width="106.0" height="68.10" fill="#fff"/>
<text transform="translate(976.09 512.00) scale(0.9321 1)" font-size="62.04" text-anchor="start" fill="#000" stroke="#000" stroke-width="1.9" stroke-linejoin="round" vector-effect="non-scaling-stroke">g</text>
<rect x="1052" y="463.7" width="105.4" height="68.10" fill="#fff"/>
<text transform="translate(1091.83 516.00) scale(0.8574 1)" font-size="60.56" text-anchor="start" fill="#000" stroke="#000" stroke-width="1.9" stroke-linejoin="round" vector-effect="non-scaling-stroke">c</text>
<rect x="1168" y="463.7" width="105.4" height="68.10" fill="#fff"/>
<text transform="translate(1190.69 512.00) scale(0.9321 1)" font-size="62.04" text-anchor="start" fill="#000" stroke="#000" stroke-width="1.9" stroke-linejoin="round" vector-effect="non-scaling-stroke">g</text>
<text transform="translate(1224.40 519.10) scale(0.9397 1)" font-size="69.86" text-anchor="start" fill="#000" stroke="#000" stroke-width="0.9" stroke-linejoin="round" vector-effect="non-scaling-stroke">*</text>
<rect x="357" y="531.80" width="222" height="68.44" fill="#306bb0"/>
<text transform="translate(460.19 576.00) scale(0.9273 1)" font-size="32.57" text-anchor="start" fill="#fff">2</text>
<rect x="588.7" y="531.80" width="105.3" height="68.44" fill="#19213e"/>
<text transform="translate(618.06 576.20) scale(1.0629 1)" font-size="32.55" text-anchor="start" fill="#fff">3/8</text>
<rect x="704" y="531.80" width="106.0" height="68.44" fill="#19213e"/>
<text transform="translate(742.37 576.20) scale(0.9587 1)" font-size="33.71" text-anchor="start" fill="#fff">42</text>
<rect x="820.2" y="531.80" width="105.8" height="68.44" fill="#306bb0"/>
<text transform="translate(850.83 576.20) scale(1.0589 1)" font-size="32.55" text-anchor="start" fill="#fff">4/8</text>
<rect x="936" y="531.80" width="106.0" height="68.44" fill="#306bb0"/>
<text transform="translate(975.17 576.20) scale(0.9587 1)" font-size="33.71" text-anchor="start" fill="#fff">49</text>
<rect x="1052" y="531.80" width="105.4" height="68.44" fill="#19213e"/>
<text transform="translate(1082.40 576.20) scale(1.0708 1)" font-size="32.55" text-anchor="start" fill="#fff">5/8</text>
<rect x="1168" y="531.80" width="105.4" height="68.44" fill="#19213e"/>
<text transform="translate(1202.27 576.20) scale(0.9725 1)" font-size="33.71" text-anchor="start" fill="#fff">56</text>
<rect x="357" y="599.94" width="222" height="68.44" fill="#608bc3"/>
<text transform="translate(460.21 644.14) scale(0.8958 1)" font-size="33.04" text-anchor="start" fill="#fff">5</text>
<rect x="588.7" y="599.94" width="105.3" height="68.44" fill="#306bb0"/>
<text transform="translate(617.35 644.34) scale(1.0789 1)" font-size="32.55" text-anchor="start" fill="#fff">7/8</text>
<rect x="704" y="599.94" width="106.0" height="68.44" fill="#306bb0"/>
<text transform="translate(741.90 644.34) scale(0.9410 1)" font-size="33.71" text-anchor="start" fill="#fff">84</text>
<rect x="820.2" y="599.94" width="105.8" height="68.44" fill="#19213e"/>
<text transform="translate(865.44 644.34) scale(0.9082 1)" font-size="34.20" text-anchor="start" fill="#fff">1</text>
<rect x="936" y="599.94" width="106.0" height="68.44" fill="#19213e"/>
<text transform="translate(974.66 644.34) scale(0.9772 1)" font-size="33.71" text-anchor="start" fill="#fff">97</text>
<rect x="1052" y="599.94" width="105.4" height="68.44" fill="#306bb0"/>
<text transform="translate(1063.42 644.34) scale(1.0369 1)" font-size="32.55" text-anchor="start" fill="#fff">1+1/8</text>
<rect x="1168" y="599.94" width="105.4" height="68.44" fill="#306bb0"/>
<text transform="translate(1193.63 644.34) scale(0.9832 1)" font-size="34.20" text-anchor="start" fill="#fff">111</text>
<rect x="357" y="668.08" width="222" height="68.44" fill="#306bb0"/>
<text transform="translate(449.77 712.28) scale(1.0122 1)" font-size="32.57" text-anchor="start" fill="#fff">10</text>
<rect x="588.7" y="668.08" width="105.3" height="68.44" fill="#19213e"/>
<text transform="translate(604.23 711.38) scale(0.9797 1)" font-size="30.07" text-anchor="start" fill="#fff">1+3/8</text>
<rect x="704" y="668.08" width="106.0" height="68.44" fill="#19213e"/>
<text transform="translate(733.37 712.48) scale(0.9146 1)" font-size="34.20" text-anchor="start" fill="#fff">141</text>
<rect x="820.2" y="668.08" width="105.8" height="68.44" fill="#306bb0"/>
<text transform="translate(831.32 712.48) scale(1.0369 1)" font-size="32.55" text-anchor="start" fill="#fff">1+5/8</text>
<rect x="936" y="668.08" width="106.0" height="68.44" fill="#306bb0"/>
<text transform="translate(966.20 712.48) scale(0.9135 1)" font-size="33.71" text-anchor="start" fill="#fff">164</text>
<rect x="1052" y="668.08" width="105.4" height="68.44" fill="#19213e"/>
<text transform="translate(1063.42 712.48) scale(1.0369 1)" font-size="32.55" text-anchor="start" fill="#fff">1+7/8</text>
<rect x="1168" y="668.08" width="105.4" height="68.44" fill="#19213e"/>
<text transform="translate(1196.88 711.18) scale(0.9309 1)" font-size="29.86" text-anchor="start" fill="#fff">186</text>
<rect x="357" y="736.22" width="222" height="68.44" fill="#608bc3"/>
<text transform="translate(449.79 780.42) scale(0.9880 1)" font-size="33.04" text-anchor="start" fill="#fff">15</text>
<rect x="588.7" y="736.22" width="105.3" height="68.44" fill="#306bb0"/>
<text transform="translate(633.81 780.62) scale(0.8838 1)" font-size="33.71" text-anchor="start" fill="#fff">2</text>
<rect x="704" y="736.22" width="106.0" height="68.44" fill="#306bb0"/>
<text transform="translate(733.36 780.62) scale(0.9338 1)" font-size="33.71" text-anchor="start" fill="#fff">192</text>
<rect x="820.2" y="736.22" width="105.8" height="68.44" fill="#19213e"/>
<text transform="translate(832.35 780.62) scale(1.0244 1)" font-size="32.55" text-anchor="start" fill="#fff">2+2/8</text>
<rect x="936" y="736.22" width="106.0" height="68.44" fill="#19213e"/>
<text transform="translate(967.12 780.62) scale(0.9163 1)" font-size="33.71" text-anchor="start" fill="#fff">222</text>
<rect x="1052" y="736.22" width="105.4" height="68.44" fill="#306bb0"/>
<text transform="translate(1064.45 780.62) scale(1.0244 1)" font-size="32.55" text-anchor="start" fill="#fff">2+4/8</text>
<rect x="1168" y="736.22" width="105.4" height="68.44" fill="#306bb0"/>
<text transform="translate(1197.73 779.32) scale(0.9135 1)" font-size="29.86" text-anchor="start" fill="#fff">252</text>
<rect x="357" y="804.36" width="222" height="68.44" fill="#306bb0"/>
<text transform="translate(450.79 848.56) scale(0.9831 1)" font-size="32.57" text-anchor="start" fill="#fff">20</text>
<rect x="588.7" y="804.36" width="105.3" height="68.44" fill="#19213e"/>
<text transform="translate(605.13 847.66) scale(0.9678 1)" font-size="30.07" text-anchor="start" fill="#fff">2+3/8</text>
<rect x="704" y="804.36" width="106.0" height="68.44" fill="#19213e"/>
<text transform="translate(734.33 848.76) scale(0.9106 1)" font-size="33.71" text-anchor="start" fill="#fff">238</text>
<rect x="820.2" y="804.36" width="105.8" height="68.44" fill="#306bb0"/>
<text transform="translate(832.35 848.76) scale(1.0244 1)" font-size="32.55" text-anchor="start" fill="#fff">2+6/8</text>
<rect x="936" y="804.36" width="106.0" height="68.44" fill="#306bb0"/>
<text transform="translate(967.12 848.76) scale(0.9163 1)" font-size="33.71" text-anchor="start" fill="#fff">276</text>
<rect x="1052" y="804.36" width="105.4" height="68.44" fill="#19213e"/>
<text transform="translate(1064.79 848.76) scale(1.0203 1)" font-size="32.55" text-anchor="start" fill="#fff">3+1/8</text>
<rect x="1168" y="804.36" width="105.4" height="68.44" fill="#19213e"/>
<text transform="translate(1198.01 847.46) scale(0.9078 1)" font-size="29.86" text-anchor="start" fill="#fff">313</text>
<rect x="357" y="872.50" width="222" height="68.44" fill="#608bc3"/>
<text transform="translate(450.80 916.70) scale(0.9738 1)" font-size="32.57" text-anchor="start" fill="#fff">25</text>
<rect x="588.7" y="872.50" width="105.3" height="68.44" fill="#306bb0"/>
<text transform="translate(605.13 915.80) scale(0.9678 1)" font-size="30.07" text-anchor="start" fill="#fff">2+7/8</text>
<rect x="704" y="872.50" width="106.0" height="68.44" fill="#306bb0"/>
<text transform="translate(734.33 916.90) scale(0.9106 1)" font-size="33.71" text-anchor="start" fill="#fff">281</text>
<rect x="820.2" y="872.50" width="105.8" height="68.44" fill="#19213e"/>
<text transform="translate(832.69 916.90) scale(1.0203 1)" font-size="32.55" text-anchor="start" fill="#fff">3+3/8</text>
<rect x="936" y="872.50" width="106.0" height="68.44" fill="#19213e"/>
<text transform="translate(967.44 916.90) scale(0.9106 1)" font-size="33.71" text-anchor="start" fill="#fff">326</text>
<rect x="1052" y="872.50" width="105.4" height="68.44" fill="#306bb0"/>
<text transform="translate(1064.79 916.90) scale(1.0203 1)" font-size="32.55" text-anchor="start" fill="#fff">3+6/8</text>
<rect x="1168" y="872.50" width="105.4" height="68.44" fill="#306bb0"/>
<text transform="translate(1198.01 915.60) scale(0.9078 1)" font-size="29.86" text-anchor="start" fill="#fff">370</text>
<rect x="357" y="940.64" width="222" height="68.44" fill="#306bb0"/>
<text transform="translate(451.12 984.84) scale(0.9738 1)" font-size="32.57" text-anchor="start" fill="#fff">30</text>
<rect x="588.7" y="940.64" width="105.3" height="68.44" fill="#19213e"/>
<text transform="translate(605.42 983.94) scale(0.9639 1)" font-size="30.07" text-anchor="start" fill="#fff">3+2/8</text>
<rect x="704" y="940.64" width="106.0" height="68.44" fill="#19213e"/>
<text transform="translate(734.64 985.04) scale(0.9106 1)" font-size="33.71" text-anchor="start" fill="#fff">323</text>
<rect x="820.2" y="940.64" width="105.8" height="68.44" fill="#306bb0"/>
<text transform="translate(832.69 985.04) scale(1.0203 1)" font-size="32.55" text-anchor="start" fill="#fff">3+6/8</text>
<rect x="936" y="940.64" width="106.0" height="68.44" fill="#306bb0"/>
<text transform="translate(967.44 985.04) scale(0.9106 1)" font-size="33.71" text-anchor="start" fill="#fff">373</text>
<rect x="1052" y="940.64" width="105.4" height="68.44" fill="#19213e"/>
<text transform="translate(1064.95 985.04) scale(1.0182 1)" font-size="32.55" text-anchor="start" fill="#fff">4+2/8</text>
<rect x="1168" y="940.64" width="105.4" height="68.44" fill="#19213e"/>
<text transform="translate(1198.15 983.74) scale(0.8858 1)" font-size="29.86" text-anchor="start" fill="#fff">424</text>
<rect x="357" y="1008.78" width="222" height="68.44" fill="#608bc3"/>
<text transform="translate(451.12 1052.98) scale(0.9647 1)" font-size="32.57" text-anchor="start" fill="#fff">35</text>
<rect x="588.7" y="1008.78" width="105.3" height="68.44" fill="#306bb0"/>
<text transform="translate(605.42 1052.08) scale(0.9639 1)" font-size="30.07" text-anchor="start" fill="#fff">3+5/8</text>
<rect x="704" y="1008.78" width="106.0" height="68.44" fill="#306bb0"/>
<text transform="translate(734.64 1053.18) scale(0.9106 1)" font-size="33.71" text-anchor="start" fill="#fff">362</text>
<rect x="820.2" y="1008.78" width="105.8" height="68.44" fill="#19213e"/>
<text transform="translate(832.85 1053.18) scale(1.0182 1)" font-size="32.55" text-anchor="start" fill="#fff">4+2/8</text>
<rect x="936" y="1008.78" width="106.0" height="68.44" fill="#19213e"/>
<text transform="translate(967.59 1053.18) scale(0.9078 1)" font-size="33.71" text-anchor="start" fill="#fff">419</text>
<rect x="1052" y="1008.78" width="105.4" height="68.44" fill="#306bb0"/>
<text transform="translate(1064.95 1053.18) scale(1.0182 1)" font-size="32.55" text-anchor="start" fill="#fff">4+7/8</text>
<rect x="1168" y="1008.78" width="105.4" height="68.44" fill="#306bb0"/>
<text transform="translate(1198.14 1051.88) scale(0.9050 1)" font-size="29.86" text-anchor="start" fill="#fff">476</text>
<rect x="357" y="1076.92" width="222" height="68.44" fill="#306bb0"/>
<text transform="translate(451.28 1121.12) scale(0.9692 1)" font-size="32.57" text-anchor="start" fill="#fff">40</text>
<rect x="588.7" y="1076.92" width="105.3" height="68.44" fill="#19213e"/>
<text transform="translate(605.57 1120.22) scale(0.9620 1)" font-size="30.07" text-anchor="start" fill="#fff">4+1/8</text>
<rect x="704" y="1076.92" width="106.0" height="68.44" fill="#19213e"/>
<text transform="translate(734.79 1121.32) scale(0.9078 1)" font-size="33.71" text-anchor="start" fill="#fff">400</text>
<rect x="820.2" y="1076.92" width="105.8" height="68.44" fill="#306bb0"/>
<text transform="translate(832.85 1121.32) scale(1.0182 1)" font-size="32.55" text-anchor="start" fill="#fff">4+6/8</text>
<rect x="936" y="1076.92" width="106.0" height="68.44" fill="#306bb0"/>
<text transform="translate(967.59 1121.32) scale(0.9078 1)" font-size="33.71" text-anchor="start" fill="#fff">463</text>
<rect x="1052" y="1076.92" width="105.4" height="68.44" fill="#19213e"/>
<text transform="translate(1064.45 1121.32) scale(1.0244 1)" font-size="32.55" text-anchor="start" fill="#fff">5+3/8</text>
<rect x="1168" y="1076.92" width="105.4" height="68.44" fill="#19213e"/>
<text transform="translate(1197.73 1120.02) scale(0.9163 1)" font-size="29.86" text-anchor="start" fill="#fff">527</text>
<rect x="357" y="1145.06" width="222" height="68.44" fill="#608bc3"/>
<text transform="translate(451.28 1189.26) scale(0.9465 1)" font-size="33.04" text-anchor="start" fill="#fff">45</text>
<rect x="588.7" y="1145.06" width="105.3" height="68.44" fill="#306bb0"/>
<text transform="translate(605.57 1188.36) scale(0.9620 1)" font-size="30.07" text-anchor="start" fill="#fff">4+4/8</text>
<rect x="704" y="1145.06" width="106.0" height="68.44" fill="#306bb0"/>
<text transform="translate(734.79 1189.46) scale(0.9106 1)" font-size="33.71" text-anchor="start" fill="#fff">437</text>
<rect x="820.2" y="1145.06" width="105.8" height="68.44" fill="#19213e"/>
<text transform="translate(832.35 1189.46) scale(1.0244 1)" font-size="32.55" text-anchor="start" fill="#fff">5+1/8</text>
<rect x="936" y="1145.06" width="106.0" height="68.44" fill="#19213e"/>
<text transform="translate(967.12 1189.46) scale(0.9163 1)" font-size="33.71" text-anchor="start" fill="#fff">506</text>
<rect x="1052" y="1145.06" width="105.4" height="68.44" fill="#306bb0"/>
<text transform="translate(1064.45 1189.46) scale(1.0244 1)" font-size="32.55" text-anchor="start" fill="#fff">5+7/8</text>
<rect x="1168" y="1145.06" width="105.4" height="68.44" fill="#306bb0"/>
<text transform="translate(1197.74 1188.16) scale(0.8948 1)" font-size="30.29" text-anchor="start" fill="#fff">575</text>
<text transform="translate(1039.80 1249.70) scale(0.9697 1)" font-size="30.14" text-anchor="start" fill="#fff" stroke="#fff" stroke-width="0.3" stroke-linejoin="round" vector-effect="non-scaling-stroke">*</text>
<text transform="translate(1057.95 1251.10) scale(0.8407 1)" font-size="28.89" text-anchor="start" fill="#fff" stroke="#fff" stroke-width="0.5" stroke-linejoin="round" vector-effect="non-scaling-stroke">c: cups</text>
<text transform="translate(1149.68 1252.60) scale(1.0288 1)" font-size="36.20" text-anchor="start" fill="#fff">•</text>
<text transform="translate(1169.41 1251.10) scale(0.8597 1)" font-size="28.81" text-anchor="start" fill="#fff" stroke="#fff" stroke-width="0.5" stroke-linejoin="round" vector-effect="non-scaling-stroke">g: grams</text>
</svg>
</body>
</html>
